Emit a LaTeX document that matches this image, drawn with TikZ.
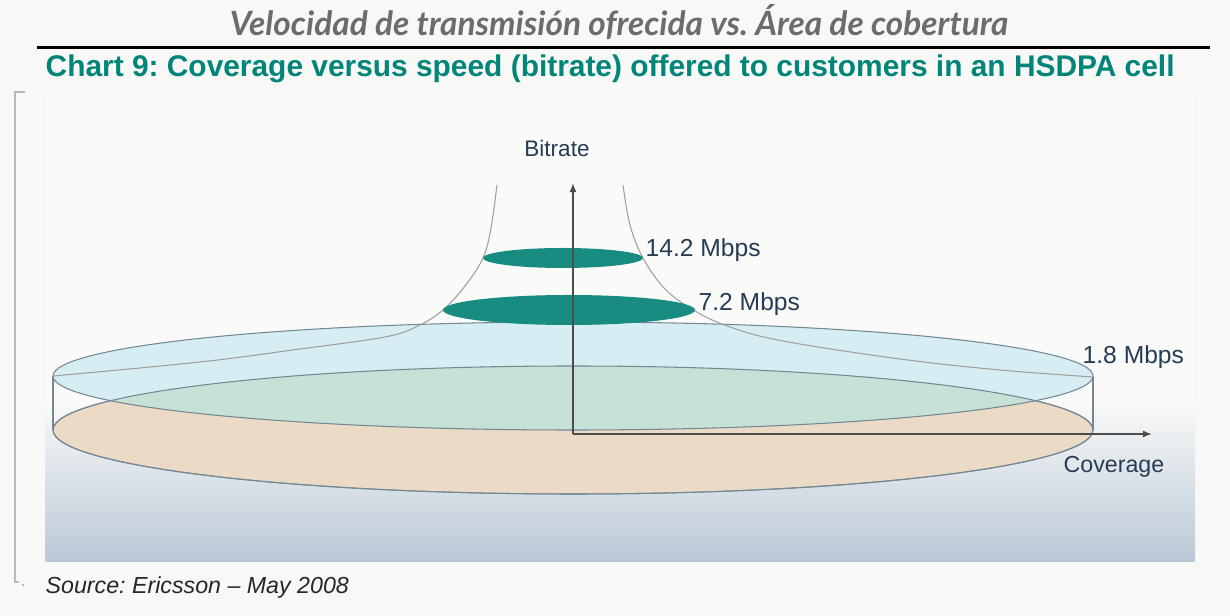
\documentclass[tikz,border=0pt]{standalone}
\usepackage{fontspec}
\setmainfont{Liberation Sans}
\newfontfamily\titlefont{Lato}
\usetikzlibrary{arrows.meta}
\frenchspacing

\definecolor{cor_teal}{RGB}{0,133,120}
\definecolor{cor_disc}{RGB}{24,140,128}
\definecolor{cor_sky}{RGB}{214,237,244}
\definecolor{cor_green}{RGB}{198,225,214}
\definecolor{cor_tan}{RGB}{235,218,198}
\definecolor{cor_edge}{RGB}{115,135,148}
\definecolor{cor_label}{RGB}{38,60,84}
\definecolor{cor_panel}{RGB}{186,200,214}
\definecolor{cor_paper}{RGB}{248,248,246}

\begin{document}
\begin{tikzpicture}[x=0.01cm,y=-0.01cm]
        \tikzset{
            rotulo/.style={
                font=\fontsize{#1}{#1}\selectfont,
                text=cor_label,
                inner sep=0pt
            },
            borda/.style={draw=cor_edge, line width=0.3pt},
            funil/.style={draw=gray!75, line width=0.3pt},
            eixo/.style={draw=black!70, line width=0.4pt, -{Latex[length=2.6pt,width=2pt]}}
        }
        \useasboundingbox (0,0) rectangle (1230,616);
        \fill[cor_paper] (0,0) rectangle (1230,616);

        % TITULOS
        \node[anchor=base, text=gray!85!black, inner sep=0pt, font=\titlefont\bfseries\itshape\fontsize{9.5}{10}\selectfont] (titulo) at (619,36) {Velocidad de transmisión ofrecida vs. Área de cobertura};
        \draw[black, line width=0.85pt] (37,48) -- (1210,48);
        \node[anchor=base west, text=cor_teal, inner sep=0pt, font=\bfseries\fontsize{8.5}{9}\selectfont] (chart) at (45,77) {Chart 9: Coverage versus speed (bitrate) offered to customers in an HSDPA cell};
        \draw[gray!55, line width=0.4pt] (25,92) -- (15,92) -- (15,582) -- (19,582);
        \fill[gray!70] (23,585) circle (1.2);

        % FUNDO
        \fill[cor_paper!70!white] (45,95) rectangle (1195,400);
        \shade[top color=cor_paper!70!white, bottom color=cor_panel] (45,400) rectangle (1195,562);

        % CILINDRO
        \filldraw[borda, fill=cor_tan] (573,430) ellipse (520 and 64);
        \draw[borda] (53,376) -- (53,430);
        \draw[borda] (1093,376) -- (1093,430);
        \fill[cor_sky] (573,376) ellipse (520 and 54);
        \begin{scope}
            \clip (573,430) ellipse (520 and 64);
            \fill[cor_green] (573,376) ellipse (520 and 54);
        \end{scope}
        \draw[borda] (573,376) ellipse (520 and 54);
        \draw[borda] (573,430) ellipse (520 and 64);

        % FUNIL
        \draw[funil] plot[smooth, tension=0.6] coordinates {(497,185) (491,228) (483,258) (465,286) (443,310) (418,326) (385,337) (300,349) (200,362) (53,376)};
        \draw[funil] plot[smooth, tension=0.6] coordinates {(623,185) (630,225) (643,258) (665,289) (695,311) (730,327) (783,341) (900,359) (1000,370) (1093,377)};

        % DISCOS
        \fill[cor_disc] (563,258) ellipse (80 and 10);
        \fill[cor_disc] (569,310) ellipse (126 and 15);

        % EIXOS
        \coordinate (origem) at (573,434);
        \coordinate (topo) at (573,183);
        \coordinate (fim) at (1152,434);
        \draw[eixo] (origem) -- (topo);
        \draw[eixo] (origem) -- (fim);

        \node[rotulo=6.4] (bitrate) at (557,148) {Bitrate};
        \node[rotulo=6.6] (coverage) at (1114,467) {Coverage};
        \node[rotulo=7, anchor=west] (v142) at (645,250) {14.2 Mbps};
        \node[rotulo=7, anchor=west] (v72) at (698,304) {7.2 Mbps};
        \node[rotulo=7, anchor=west] (v18) at (1082,357) {1.8 Mbps};

        \node[anchor=west, inner sep=0pt, text=black!85, font=\itshape\fontsize{6.6}{7}\selectfont] (fonte) at (45,588) {Source: Ericsson – May 2008};

    \end{tikzpicture}
\end{document}
